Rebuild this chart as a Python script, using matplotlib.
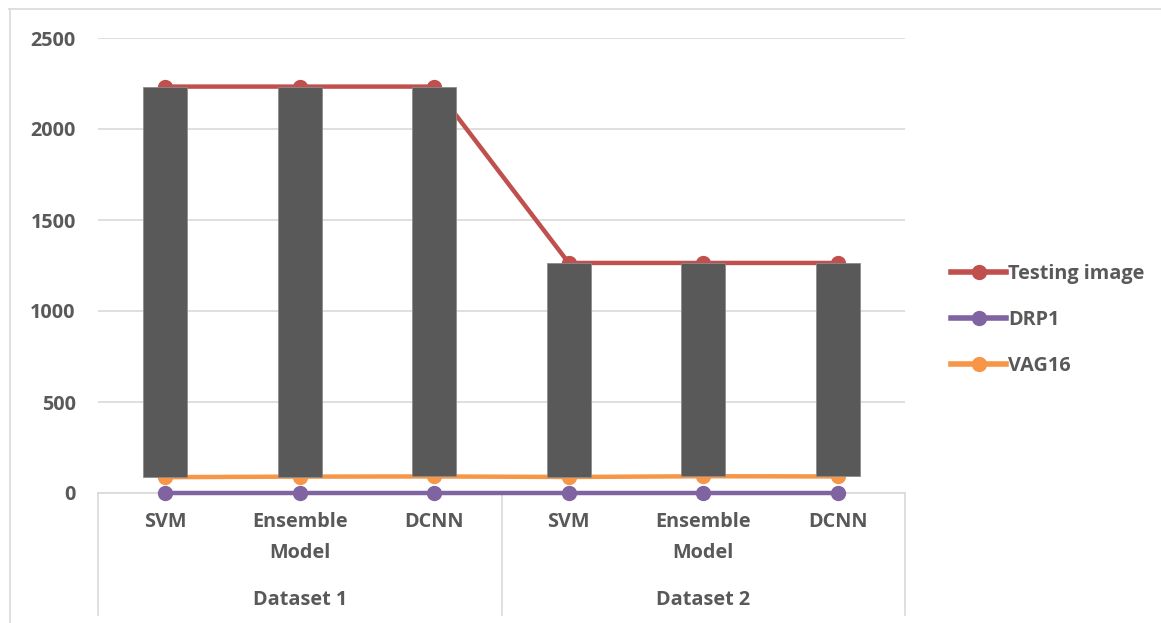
import matplotlib.pyplot as plt
import numpy as np
from matplotlib.lines import Line2D
from matplotlib.transforms import blended_transform_factory

plt.rcParams['font.family'] = ['Open Sans', 'DejaVu Sans']

# values per model, grouped by dataset
models = ["SVM", "Ensemble\nModel", "DCNN", "SVM", "Ensemble\nModel", "DCNN"]
datasets = ["Dataset 1", "Dataset 2"]
testing = [2233, 2233, 2233, 1264, 1264, 1264]
drp1 = [0, 0, 0, 0, 0, 0]
vag16 = [87, 90, 91, 88, 92, 91]

red = "#C0504D"
purple = "#8064A2"
orange = "#F79646"
txt = "#595959"
grid = "#D9D9D9"
fs = 14.3

fig = plt.figure(figsize=(11.61, 6.23), dpi=100)
ax = fig.add_axes([98 / 1161, 130 / 623, 807 / 1161, 455 / 623])

x = np.arange(len(models))
ax.plot(x, testing, color=red, lw=3.2, marker="o", ms=10, zorder=2, label="Testing image")
ax.plot(x, drp1, color=purple, lw=3.2, marker="o", ms=10, zorder=4, label="DRP1", clip_on=False)
ax.plot(x, vag16, color=orange, lw=3.2, marker="o", ms=10, zorder=2, label="VAG16")

# up-down bars between first and last series
top = np.array(testing)
low = np.array(vag16)
ax.bar(x, top - low, bottom=low, width=0.33, color="#595959",
       edgecolor="#8C8C8C", linewidth=0.6, zorder=3)

ax.set_xlim(-0.5, 5.5)
ax.set_ylim(0, 2500)
ax.set_yticks(range(0, 2501, 500))
ax.set_yticklabels([str(v) for v in range(0, 2501, 500)], fontsize=fs,
                   fontweight="bold", color=txt)
ax.tick_params(axis="y", length=0, pad=16)
ax.tick_params(axis="x", length=0)
ax.set_xticks([])
ax.grid(axis="y", color=grid, lw=1.2, zorder=0)
ax.set_axisbelow(True)
for s in ["top", "right", "left"]:
    ax.spines[s].set_visible(False)
ax.spines["bottom"].set_color(grid)
ax.spines["bottom"].set_linewidth(1.2)

# two-level category axis
tr = blended_transform_factory(ax.transData, fig.transFigure)
for i, m in enumerate(models):
    ax.text(i, 1 - 512 / 623, m, transform=tr, ha="center", va="top",
            fontsize=fs, fontweight="bold", color=txt, linespacing=1.75)
for j, d in enumerate(datasets):
    ax.text(1 + 3 * j, 1 - 600 / 623, d, transform=tr, ha="center", va="center",
            fontsize=fs, fontweight="bold", color=txt)
for xs in [-0.5, 2.5, 5.5]:
    ax.add_line(Line2D([xs, xs], [1 - 493 / 623, 1 - 615 / 623], transform=tr,
                       color=grid, lw=1.2, clip_on=False))

# chart area border
fig.add_artist(Line2D([9 / 1161, 1], [1 - 8.5 / 623, 1 - 8.5 / 623], color=grid, lw=1.2))
fig.add_artist(Line2D([9.5 / 1161, 9.5 / 1161], [0, 1 - 8.5 / 623], color=grid, lw=1.2))

leg = fig.legend(loc="center left", bbox_to_anchor=(933 / 1161, 1 - 320 / 623), frameon=False,
                 prop={"size": fs, "weight": "bold"}, labelcolor=txt, handlelength=2.8,
                 handletextpad=0.1, labelspacing=1.3)
for h in leg.get_lines():
    h.set_linewidth(4)

fig.savefig("out.png", dpi=100)
